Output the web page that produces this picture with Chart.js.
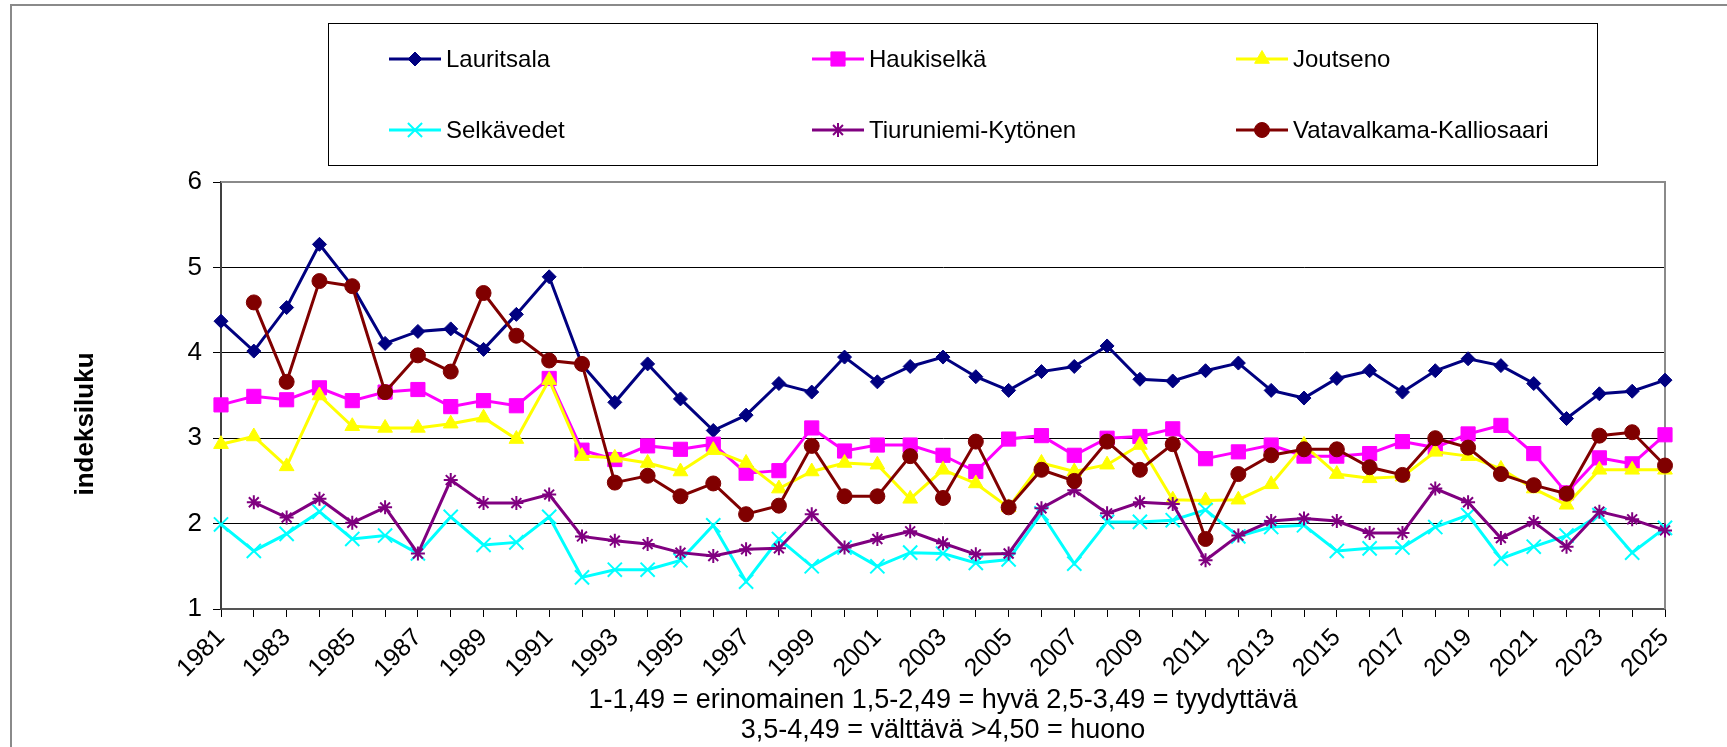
<!DOCTYPE html>
<html>
<head>
<meta charset="utf-8">
<script src="https://cdn.jsdelivr.net/npm/chart.js@4/dist/chart.umd.min.js"></script>
<style>
  html, body { margin: 0; padding: 0; background: #fff; }
  #wrap { width: 1727px; height: 747px; }
</style>
</head>
<body>
<div id="wrap"><canvas id="chart" width="1727" height="747"></canvas></div>
<script>
const years = ['1981','1982','1983','1984','1985','1986','1987','1988','1989','1990',
  '1991','1992','1993','1994','1995','1996','1997','1998','1999','2000',
  '2001','2002','2003','2004','2005','2006','2007','2008','2009','2010',
  '2011','2012','2013','2014','2015','2016','2017','2018','2019','2020',
  '2021','2022','2023','2024','2025'];

const lauritsala = [4.37,4.02,4.53,5.27,4.78,4.11,4.25,4.28,4.04,4.45,
  4.89,3.86,3.42,3.87,3.46,3.09,3.27,3.64,3.54,3.95,
  3.66,3.84,3.95,3.72,3.56,3.78,3.84,4.08,3.69,3.67,
  3.79,3.88,3.56,3.47,3.70,3.79,3.54,3.79,3.93,3.85,
  3.64,3.23,3.52,3.55,3.68];
const haukiselka = [3.39,3.49,3.45,3.59,3.44,3.54,3.57,3.37,3.44,3.38,
  3.70,2.86,2.75,2.91,2.87,2.93,2.59,2.62,3.12,2.85,
  2.92,2.92,2.80,2.61,2.99,3.03,2.80,3.00,3.02,3.11,
  2.76,2.84,2.92,2.79,2.79,2.82,2.96,2.89,3.05,3.15,
  2.82,2.36,2.77,2.70,3.04];
const joutseno = [2.93,3.02,2.67,3.50,3.14,3.12,3.12,3.17,3.24,2.99,
  3.68,2.79,2.77,2.71,2.61,2.86,2.71,2.41,2.61,2.71,
  2.69,2.29,2.63,2.47,2.19,2.71,2.61,2.69,2.92,2.28,
  2.27,2.28,2.46,2.92,2.58,2.53,2.55,2.84,2.79,2.64,
  2.41,2.22,2.63,2.63,2.63];
const selkavedet = [1.99,1.68,1.88,2.14,1.82,1.86,1.65,2.08,1.75,1.78,
  2.08,1.37,1.46,1.46,1.57,1.98,1.32,1.82,1.50,1.72,
  1.50,1.66,1.65,1.54,1.58,2.12,1.53,2.02,2.02,2.04,
  2.16,1.85,1.96,1.98,1.68,1.71,1.72,1.96,2.10,1.59,
  1.73,1.86,2.10,1.66,1.95];
const tiuruniemi = [null,2.25,2.07,2.29,2.01,2.19,1.65,2.51,2.24,2.24,
  2.34,1.85,1.80,1.76,1.66,1.62,1.70,1.71,2.11,1.72,
  1.82,1.91,1.77,1.64,1.65,2.18,2.39,2.12,2.25,2.23,
  1.57,1.86,2.03,2.06,2.03,1.89,1.89,2.41,2.25,1.83,
  2.02,1.73,2.14,2.05,1.92];
const vatavalkama = [null,4.59,3.66,4.84,4.78,3.54,3.97,3.78,4.70,4.20,
  3.91,3.87,2.48,2.56,2.32,2.47,2.11,2.21,2.91,2.32,
  2.32,2.79,2.30,2.96,2.19,2.63,2.50,2.96,2.63,2.93,
  1.82,2.58,2.80,2.87,2.87,2.66,2.57,3.00,2.89,2.58,
  2.45,2.35,3.03,3.07,2.68];

const yTitle = 'indeksiluku';
const noteLines = ['1-1,49 = erinomainen 1,5-2,49 = hyvä 2,5-3,49 = tyydyttävä',
  '3,5-4,49 = välttävä >4,50 = huono'];

const FONT = '"Liberation Sans", Arial, sans-serif';

function series(label, data, color, style, radius, bw, order) {
  return {
    label: label,
    data: data,
    borderColor: color,
    backgroundColor: color,
    borderWidth: 3,
    pointStyle: style,
    pointRadius: radius,
    pointHoverRadius: radius,
    pointBackgroundColor: color,
    pointBorderColor: color,
    pointBorderWidth: bw,
    fill: false,
    tension: 0,
    spanGaps: false,
    order: order
  };
}

const datasets = [
  series('Lauritsala', lauritsala, '#000080', 'rectRot', 7, 1, 6),
  series('Haukiselkä', haukiselka, '#FF00FF', 'rect', 10, 1, 5),
  series('Joutseno', joutseno, '#FFFF00', 'triangle', 8.5, 1, 4),
  series('Selkävedet', selkavedet, '#00FFFF', 'crossRot', 10, 2, 3),
  series('Tiuruniemi-Kytönen', tiuruniemi, '#800080', 'star', 7, 2, 2),
  series('Vatavalkama-Kalliosaari', vatavalkama, '#800000', 'circle', 7.5, 1, 1)
];

// legend slots: 3 columns x 2 rows
const legendCols = [389, 812, 1236];
const legendRows = [59, 130];

const decor = {
  id: 'decor',
  beforeDatasetsDraw(chart) {
    const ctx = chart.ctx;
    const a = chart.chartArea;
    ctx.save();
    ctx.strokeStyle = '#8a8a8a';
    ctx.lineWidth = 2;
    ctx.beginPath();
    ctx.moveTo(a.left, a.top);
    ctx.lineTo(a.right, a.top);
    ctx.lineTo(a.right, a.bottom);
    ctx.stroke();
    ctx.restore();
  },
  afterDraw(chart) {
    const ctx = chart.ctx;
    ctx.save();
    // outer frame
    ctx.strokeStyle = '#8a8a8a';
    ctx.lineWidth = 2;
    ctx.beginPath();
    ctx.moveTo(11, 747);
    ctx.lineTo(11, 5);
    ctx.lineTo(1727, 5);
    ctx.stroke();

    // legend box
    ctx.strokeStyle = '#000';
    ctx.lineWidth = 1;
    ctx.strokeRect(328.5, 23.5, 1269, 142);

    ctx.font = '24px ' + FONT;
    ctx.textBaseline = 'middle';
    ctx.textAlign = 'left';
    chart.data.datasets.forEach((ds, i) => {
      const x = legendCols[i % 3];
      const y = legendRows[Math.floor(i / 3)];
      ctx.strokeStyle = ds.borderColor;
      ctx.lineWidth = 3;
      ctx.beginPath();
      ctx.moveTo(x, y);
      ctx.lineTo(x + 52, y);
      ctx.stroke();
      ctx.fillStyle = ds.pointBackgroundColor;
      ctx.strokeStyle = ds.pointBorderColor;
      ctx.lineWidth = ds.pointBorderWidth;
      Chart.helpers.drawPoint(ctx, {
        pointStyle: ds.pointStyle,
        radius: ds.pointRadius,
        rotation: 0,
        borderWidth: ds.pointBorderWidth
      }, x + 26, y);
      ctx.fillStyle = '#000';
      ctx.fillText(ds.label, x + 57, y + 1);
    });

    // y title
    ctx.save();
    ctx.translate(86, 424);
    ctx.rotate(-Math.PI / 2);
    ctx.font = 'bold 26px ' + FONT;
    ctx.textAlign = 'center';
    ctx.fillStyle = '#000';
    ctx.fillText(yTitle, 0, 0);
    ctx.restore();

    // note under the axis
    ctx.font = '27px ' + FONT;
    ctx.textAlign = 'center';
    ctx.fillStyle = '#000';
    const cx = (chart.chartArea.left + chart.chartArea.right) / 2;
    ctx.fillText(noteLines[0], cx, 701);
    ctx.fillText(noteLines[1], cx, 731);
    ctx.restore();
  }
};

new Chart(document.getElementById('chart').getContext('2d'), {
  type: 'line',
  data: { labels: years, datasets: datasets },
  plugins: [decor],
  options: {
    responsive: false,
    animation: false,
    devicePixelRatio: 1,
    layout: { padding: { left: 0, top: 182, right: 62, bottom: 0 } },
    plugins: {
      legend: { display: false },
      tooltip: { enabled: false },
      title: { display: false }
    },
    scales: {
      x: {
        grid: { display: true, drawOnChartArea: false, drawTicks: true, tickLength: 8, color: '#000', lineWidth: 1 },
        border: { display: true, color: '#555', width: 2 },
        ticks: {
          autoSkip: false,
          maxRotation: 45,
          minRotation: 45,
          padding: 6,
          color: '#000',
          font: { size: 25, family: FONT },
          callback: function (v, i) { return i % 2 === 0 ? this.getLabelForValue(v) : ''; }
        },
        afterFit: s => { s.height = 138; }
      },
      y: {
        min: 1,
        max: 6,
        grid: { color: '#000', lineWidth: 1, tickLength: 8 },
        border: { display: true, color: '#404040', width: 2 },
        ticks: {
          stepSize: 1,
          padding: 11,
          color: '#000',
          font: { size: 26, family: FONT }
        },
        afterFit: s => { s.width = 221; }
      }
    }
  }
});
</script>
</body>
</html>
